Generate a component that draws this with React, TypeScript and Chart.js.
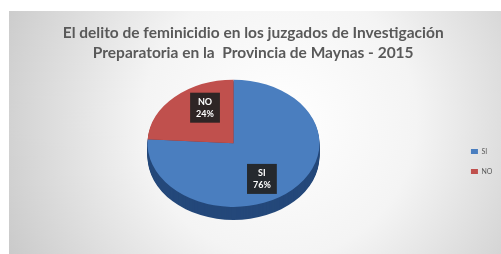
import { useEffect, useRef } from 'react';
import { Chart, registerables } from 'chart.js';

Chart.register(...registerables);

const categories = ['SI', 'NO'];
const values = [76, 24];
const percentLabels = ['76%', '24%'];
const titleLines = [
  'El delito de feminicidio en los juzgados de Investigación',
  'Preparatoria en la  Provincia de Maynas - 2015',
];
const faceColors = ['#4a7ebf', '#c0504d'];
const sideColors = ['#24487a', '#7e2f2d'];

const TILT = 0.74;
const DEPTH = 13;
const LABEL_FRACTION = 0.65;
const LABEL_ANGLE_SHIFT = 0.22;

const tiltPlugin = {
  id: 'tilt3d',
  beforeDraw(chart: any) {
    const { ctx, width, height } = chart;
    ctx.save();
    const g = ctx.createRadialGradient(width * 0.55, height * 0.45, 0, width * 0.55, height * 0.45, width * 0.62);
    g.addColorStop(0, '#ffffff');
    g.addColorStop(0.45, '#f4f4f4');
    g.addColorStop(1, '#c9c9c9');
    ctx.fillStyle = g;
    ctx.fillRect(0, 0, width, height);
    ctx.restore();
  },
  beforeDatasetsDraw(chart: any) {
    const ctx = chart.ctx;
    const arcs = chart.getDatasetMeta(0).data;
    ctx.save();
    if (!arcs.length) return;
    const cx = arcs[0].x;
    const cy = arcs[0].y;
    for (let d = DEPTH; d >= 1; d--) {
      ctx.save();
      ctx.translate(cx, cy + d);
      ctx.scale(1, TILT);
      arcs.forEach((arc: any, i: number) => {
        const p = arc.getProps(['startAngle', 'endAngle', 'outerRadius'], true);
        ctx.beginPath();
        ctx.moveTo(0, 0);
        ctx.arc(0, 0, p.outerRadius, p.startAngle, p.endAngle);
        ctx.closePath();
        ctx.fillStyle = sideColors[i];
        ctx.fill();
      });
      ctx.restore();
    }
    ctx.translate(cx, cy);
    ctx.scale(1, TILT);
    ctx.translate(-cx, -cy);
  },
  afterDatasetsDraw(chart: any) {
    const ctx = chart.ctx;
    ctx.restore();
    const arcs = chart.getDatasetMeta(0).data;
    if (!arcs.length) return;
    arcs.forEach((arc: any, i: number) => {
      const p = arc.getProps(['x', 'y', 'startAngle', 'endAngle', 'outerRadius'], true);
      const mid = (p.startAngle + p.endAngle) / 2 + LABEL_ANGLE_SHIFT;
      const r = p.outerRadius * LABEL_FRACTION;
      const lx = p.x + Math.cos(mid) * r;
      const ly = p.y + Math.sin(mid) * r * TILT;
      const lines = [categories[i], percentLabels[i]];
      ctx.save();
      ctx.font = 'bold 9px Lato';
      const tw = Math.max(...lines.map((t) => ctx.measureText(t).width));
      const bw = tw + 12;
      const bh = 30;
      ctx.fillStyle = 'rgba(34,34,34,0.92)';
      ctx.fillRect(lx - bw / 2, ly - bh / 2, bw, bh);
      ctx.fillStyle = '#ffffff';
      ctx.textAlign = 'center';
      ctx.textBaseline = 'middle';
      ctx.fillText(lines[0], lx, ly - 6);
      ctx.fillText(lines[1], lx, ly + 6);
      ctx.restore();
    });
  },
};

export default function App() {
  const ref = useRef<HTMLCanvasElement>(null);
  useEffect(() => {
    if (!ref.current) return;
    const chart = new Chart(ref.current, {
      type: 'pie',
      data: {
        labels: categories,
        datasets: [
          {
            data: values,
            backgroundColor: faceColors,
            borderWidth: 0,
            clip: false,
          } as any,
        ],
      },
      options: {
        responsive: false,
        animation: false,
        radius: 86,
        layout: { padding: { left: -5, right: -1.4, top: 0, bottom: 37 } },
        plugins: {
          title: {
            display: true,
            text: titleLines,
            color: '#595959',
            font: { family: 'Lato', size: 15.5, weight: 'bold', lineHeight: 1.31 },
            padding: { top: 12, bottom: 6 },
          },
          legend: {
            position: 'right',
            align: 'center',
            title: {
              display: true,
              text: '',
              font: { family: 'Lato', size: 7, lineHeight: 1.2 },
              padding: { top: 86.6, bottom: 0 },
            },
            labels: {
              boxWidth: 7,
              boxHeight: 5,
              color: '#595959',
              font: { family: 'Lato', size: 7 },
              padding: 13,
            },
          },
          tooltip: { enabled: false },
        },
      } as any,
      plugins: [tiltPlugin],
    });
    return () => chart.destroy();
  }, []);
  return (
    <div style={{ position: 'absolute', left: 9, top: 11, width: 492, height: 243 }}>
      <canvas ref={ref} width={492} height={243} />
    </div>
  );
}
